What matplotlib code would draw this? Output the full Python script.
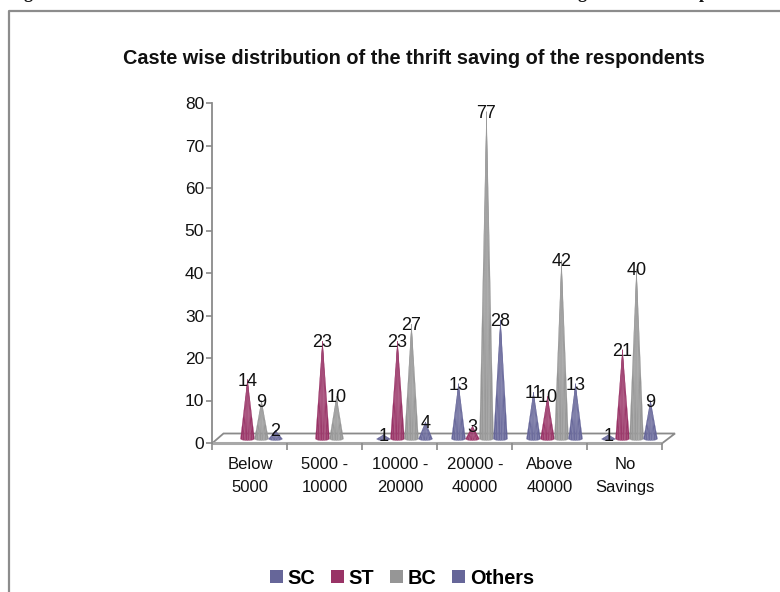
import matplotlib
matplotlib.use("Agg")
import matplotlib.pyplot as plt
import matplotlib.transforms as mtrans
from matplotlib.colors import to_rgb
from matplotlib.lines import Line2D
from matplotlib.patches import Patch, Polygon
import numpy as np

plt.rcParams["font.family"] = ["Liberation Sans", "DejaVu Sans"]

categories = ["Below\n5000", "5000 -\n10000", "10000 -\n20000",
              "20000 -\n40000", "Above\n40000", "No\nSavings"]
sc = [0, 0, 1, 13, 11, 1]
st = [14, 23, 23, 3, 10, 21]
bc = [9, 10, 27, 77, 42, 40]
others = [2, 0, 4, 28, 13, 9]
series_names = ["SC", "ST", "BC", "Others"]
series_colors = ["#666699", "#993366", "#969696", "#666699"]
title = "Caste wise distribution of the thrift saving of the respondents"

W, H = 780, 592
fig = plt.figure(figsize=(W / 100, H / 100), dpi=100, facecolor="white")

# Plot area in pixels
left, right, top, bottom = 212.5, 662.5, 103, 443
ax = fig.add_axes([left / W, 1 - bottom / H, (right - left) / W, (bottom - top) / H])
ax.set_xlim(0, 6)
ax.set_ylim(0, 80)
ax.patch.set_visible(False)
for side in ("top", "right"):
    ax.spines[side].set_visible(False)
axis_gray = "#8a8a8a"
ax.spines["left"].set_color(axis_gray)
ax.spines["bottom"].set_visible(False)
ax.spines["left"].set_linewidth(1.3)
ax.set_yticks(range(0, 81, 10))
ax.set_xticks(range(0, 7))
ax.set_xticklabels([])
ax.tick_params(axis="y", length=4, width=1.2, color=axis_gray, labelsize=12.5, pad=2,
               labelcolor="#111111")
ax.tick_params(axis="x", length=5, width=1.2, color=axis_gray, direction="out")
for i, label in enumerate(categories):
    ax.text(i + 0.5, -7.75, label, ha="center", va="center", fontsize=12,
            linespacing=1.72, color="#111111")

# Floor of the pseudo-3D plot
unit_x = 1 / ((right - left) / 6)
unit_y = 80 / (bottom - top)
floor = Polygon([(0, 0), (6, 0), (6 + 12.5 * unit_x, 9.5 * unit_y), (11 * unit_x, 9.5 * unit_y)],
                closed=True, facecolor="white", edgecolor=axis_gray, linewidth=1.3,
                clip_on=False, zorder=1)
ax.add_patch(floor)
ax.plot([0, 6], [0, 0], color="#a8a8a8", lw=2.2, clip_on=False, zorder=1.5, solid_capstyle="butt")

# Cones sit slightly behind the front edge of the floor
cone_tf = mtrans.offset_copy(ax.transData, fig=fig, x=4.5, y=4, units="dots")
label_tf = mtrans.offset_copy(ax.transData, fig=fig, x=4.5, y=2.5, units="dots")
cone_width = 14 * unit_x
streaks = [0.0, 0.03, 0.1, 0.03, 0.06, 0.13, 0.04, 0.0]
slots = np.array([-1.5, -0.5, 0.5, 1.5]) * 14 * unit_x


def draw_cone(xc, value, color):
    rgb = np.array(to_rgb(color))
    n = len(streaks)
    edges = np.linspace(-0.5, 0.5, n + 1)
    sag = 0.35
    for k, lighten in enumerate(streaks):
        a, b = edges[k], edges[k + 1]
        shade = rgb + (1 - rgb) * lighten
        ya = -sag * np.sqrt(max(0, 1 - (2 * a) ** 2))
        yb = -sag * np.sqrt(max(0, 1 - (2 * b) ** 2))
        ax.add_patch(Polygon([(xc + a * cone_width, ya), (xc + b * cone_width, yb), (xc, value)],
                             closed=True, facecolor=shade, edgecolor=shade, linewidth=0.2,
                             transform=cone_tf, clip_on=False, zorder=2))


for s, values in enumerate([sc, st, bc, others]):
    for i, v in enumerate(values):
        if v > 0:
            x = i + 0.5 + slots[s]
            draw_cone(x, v, series_colors[s])
            ax.text(x, v, str(v), transform=label_tf, ha="center", va="center",
                    fontsize=13, color="#111111", zorder=3)

fig.text(414 / W, 1 - 58 / H, title, ha="center", va="center", fontsize=14.3,
         fontweight="bold", color="#111111")

handles = [Patch(facecolor=c, edgecolor="none", label=n) for n, c in zip(series_names, series_colors)]
fig.legend(handles=handles, loc="center", bbox_to_anchor=(402 / W, 1 - 578 / H), ncol=4,
           frameon=False, prop={"size": 14.3, "weight": "bold"}, handlelength=0.66,
           handleheight=0.66, handletextpad=0.22, columnspacing=0.8, borderpad=0, labelspacing=0)

# Outer chart frame: open at the bottom and running off the right edge
frame = "#8c8c8c"
fig.add_artist(Line2D([9 / W, 9 / W, 1], [0, 1 - 10.5 / H, 1 - 10.5 / H],
                      transform=fig.transFigure, color=frame, lw=1.6))

# Descenders of the caption line above the frame
for px, glyph in [(28, "g"), (582, "g"), (704, "p")]:
    fig.text(px / W, 1 + 2 / H, glyph, ha="center", va="baseline", fontsize=13,
             fontweight="bold", family="Liberation Serif", color="#111111")

fig.savefig("out.png", dpi=100)
